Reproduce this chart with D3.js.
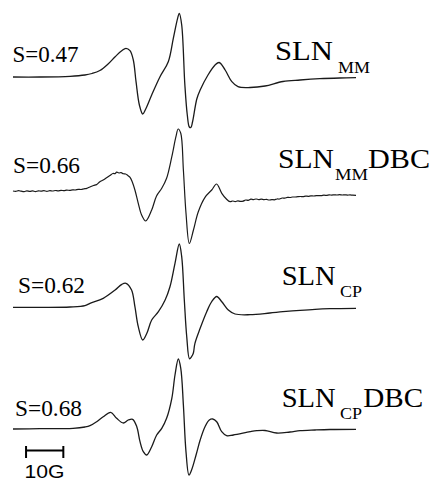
<!DOCTYPE html>
<html>
<head>
<meta charset="utf-8">
<script src="https://cdn.jsdelivr.net/npm/d3@7"></script>
<style>
  html, body { margin: 0; padding: 0; background: #fff; }
  svg { display: block; }
  .serif { font-family: "Liberation Serif", "Times New Roman", serif; }
  .sans { font-family: "Liberation Sans", Arial, sans-serif; }
</style>
</head>
<body>
<svg id="chart" width="431" height="481"></svg>
<script>
// EPR first-derivative spectra: [field offset (G), intensity (a.u.)]
const spectrumSLN_MM = [
  [0,0],[7.2,0],[15.3,0.07],[19.3,0.2],[21.2,0.35],[23.3,0.65],[25.5,1.3],[27.4,2.03],
  [29.16,2.63],[30.3,2.87],[31.38,2.63],[32.27,1.7],[33.0,-0.47],[33.9,-2.8],[34.8,-3.7],
  [35.6,-3.2],[37.2,-1.8],[39.4,0],[41.65,1.53],[43.0,3.87],[44.15,5.87],[44.6,6.37],
  [45.25,5.2],[46.1,-0.8],[46.75,-3.8],[47.3,-5.0],[47.7,-5.05],[48.15,-4.5],[49.3,-2.2],
  [50.2,-1.3],[52.3,0.2],[54.2,1.2],[55.3,1.45],[56.9,0.7],[58.7,-0.47],[60.35,-0.97],
  [63.6,-1.05],[67.6,-0.9],[72.4,-0.45],[77.0,-0.3],[82.3,-0.17],[87.7,-0.1],[92.0,-0.07]
];

const spectrumSLN_MM_DBC = [
  [0,0.0],[0.7,-0.04],[1.5,0.03],[2.2,-0.02],[3.0,-0.06],[3.7,0.02],[4.5,-0.04],[5.3,0.01],
  [6.0,-0.06],[6.8,0.02],[7.6,-0.02],[8.3,0.03],[9.1,-0.03],[9.9,0.04],[10.6,0.0],[11.4,0.05],
  [12.1,0.01],[12.9,0.07],[13.7,0.03],[14.4,0.09],[15.2,0.06],[16.0,0.11],[16.7,0.1],
  [17.5,0.16],[18.3,0.15],[19.0,0.22],[19.8,0.27],[20.6,0.4],[21.6,0.55],[22.4,0.64],
  [23.3,0.93],[24.2,1.1],[25.0,1.3],[26.0,1.55],[26.8,1.75],[27.4,1.74],[27.8,1.88],
  [28.4,1.8],[29.0,1.84],[29.6,1.72],[30.2,1.7],[30.8,1.55],[31.4,1.37],[32.0,0.9],
  [32.7,0.1],[33.6,-1.23],[34.5,-2.4],[35.6,-3.0],[37.2,-1.9],[38.5,-0.5],[39.9,0.27],
  [41.2,1.27],[42.6,3.43],[43.7,5.43],[44.3,6.2],[45.0,5.77],[45.7,2.1],[46.4,-2.2],
  [47.3,-5.25],[48.4,-3.9],[49.7,-2.07],[51.5,-0.63],[53.3,0.1],[54.6,0.7],[56.0,-0.23],
  [57.3,-0.83],[58.2,-1.07],[58.9,-1.0],[59.6,-1.06],[60.3,-0.98],[61.0,-1.04],[61.7,-1.02],
  [62.4,-0.9],[63.1,-0.93],[63.8,-0.82],[64.5,-0.86],[65.2,-0.8],[65.9,-0.86],[66.6,-0.82],
  [67.3,-0.86],[68.0,-0.84],[68.7,-0.9],[69.4,-0.86],[70.1,-0.88],[70.8,-0.8],[71.5,-0.8],
  [72.2,-0.7],[72.9,-0.72],[73.6,-0.64],[74.3,-0.65],[75.0,-0.6],[75.7,-0.6],[76.4,-0.57],
  [77.1,-0.55],[77.8,-0.56],[78.5,-0.51],[79.2,-0.53],[79.9,-0.48],[80.6,-0.5],[81.3,-0.47],
  [82.0,-0.46],[82.7,-0.47],[83.4,-0.42],[84.1,-0.44],[84.8,-0.39],[85.5,-0.41],[86.2,-0.38],
  [86.9,-0.4],[87.6,-0.37],[88.3,-0.4],[89.0,-0.38],[89.7,-0.41],[90.4,-0.39],[91.1,-0.42],
  [92.0,-0.43]
];

const spectrumSLN_CP = [
  [0,-0.03],[7.2,-0.03],[15.3,0],[19.3,0.13],[20.65,0.37],[24.2,0.87],[27.4,1.7],[29.2,2.27],
  [30.3,2.37],[31.8,1.7],[32.7,0.03],[33.6,-1.97],[34.8,-3.3],[35.9,-2.63],[37.2,-1.3],
  [39.0,-0.47],[40.8,0.7],[42.1,2.03],[43.45,4.37],[44.6,6.3],[45.25,5.03],[45.95,0.7],
  [46.6,-2.97],[47.35,-5.18],[47.9,-4.97],[48.36,-4.63],[48.8,-3.63],[50.2,-2.13],
  [51.96,-0.47],[53.3,0.53],[54.64,1.05],[56.0,0.53],[57.75,-0.3],[59.55,-0.7],[63.6,-0.77],
  [68.9,-0.6],[72.4,-0.47],[77.0,-0.33],[81.0,-0.23],[85.0,-0.17],[92.0,-0.13]
];

const spectrumSLN_CP_DBC = [
  [0,0],[7.2,0.03],[16.1,0.07],[19.3,0.2],[20.65,0.33],[22.45,0.73],[24.2,1.23],[26.2,1.67],
  [27.8,1.07],[29.6,0.6],[30.9,0.9],[32.1,0.97],[33.2,0.23],[34.07,-1.27],[34.95,-2.27],
  [35.86,-2.6],[37.2,-1.77],[38.54,-0.6],[39.9,0.07],[41.2,1.07],[42.6,3.07],[43.45,5.4],
  [44.34,7.0],[45.0,6.07],[45.7,2.4],[46.4,-2.27],[47.2,-4.6],[47.9,-4.1],[49.1,-2.6],
  [50.2,-1.1],[51.5,0.23],[52.65,0.9],[53.56,1.0],[54.64,0.73],[55.98,-0.27],[57.3,-0.67],
  [59.1,-0.6],[63.6,-0.27],[65.4,-0.17],[67.6,-0.15],[70.7,-0.4],[74.3,-0.3],[77.0,-0.17],
  [81.0,-0.1],[85.0,-0.05],[92.0,-0.03]
];

// Order parameters and sample names
const orderParams = [0.47, 0.66, 0.62, 0.68];
const sampleBase = ["SLN", "SLN", "SLN", "SLN"];
const sampleSub = ["MM", "MM", "CP", "CP"];
const sampleSuffix = ["", "DBC", "", "DBC"];
const scaleBarGauss = 10;

const spectra = [spectrumSLN_MM, spectrumSLN_MM_DBC, spectrumSLN_CP, spectrumSLN_CP_DBC];

// Layout
const W = 431, H = 481;
const baselines = [77, 191, 307, 429];
const labelLayout = [
  { sx: 12.5, sy: 61.7, sw: 66, nx: 275, ny: 59.5, nw: 58, bx: 338, by: 73.3, bw: 32, bs: 17, fx: 0, fw: 0 },
  { sx: 13,   sy: 173.3, sw: 67, nx: 278, ny: 168.3, nw: 56, bx: 335, by: 179.5, bw: 33, bs: 16, fx: 368, fw: 62 },
  { sx: 18,   sy: 293.3, sw: 67, nx: 281.7, ny: 285, nw: 54, bx: 340, by: 296.7, bw: 22, bs: 16, fx: 0, fw: 0 },
  { sx: 15,   sy: 416,   sw: 67, nx: 281.7, ny: 406.7, nw: 54, bx: 340, by: 419, bw: 22, bs: 16, fx: 363.3, fw: 60 }
];

const svg = d3.select("#chart").attr("viewBox", `0 0 ${W} ${H}`);
svg.append("rect").attr("width", W).attr("height", H).attr("fill", "#fff");

const x = d3.scaleLinear().domain([0, 92]).range([13, 356]);

spectra.forEach((data, i) => {
  const base = baselines[i];
  const y = d3.scaleLinear().domain([-6, 8]).range([base + 60, base - 80]);
  const line = d3.line()
    .x(d => x(d[0]))
    .y(d => y(d[1]))
    .curve(d3.curveCatmullRom.alpha(0.5));

  svg.append("path")
    .datum(data)
    .attr("d", line)
    .attr("fill", "none")
    .attr("stroke", "#1a1a1a")
    .attr("stroke-width", i === 1 ? 1.2 : 1.3)
    .attr("stroke-linejoin", "round");

  const L = labelLayout[i];

  svg.append("text")
    .attr("class", "serif")
    .attr("x", L.sx).attr("y", L.sy)
    .attr("font-size", 24)
    .attr("textLength", L.sw).attr("lengthAdjust", "spacingAndGlyphs")
    .attr("fill", "#000")
    .text(`S=${orderParams[i].toFixed(2)}`);

  svg.append("text")
    .attr("class", "serif")
    .attr("x", L.nx).attr("y", L.ny)
    .attr("font-size", 27)
    .attr("textLength", L.nw).attr("lengthAdjust", "spacingAndGlyphs")
    .attr("fill", "#000")
    .text(sampleBase[i]);

  svg.append("text")
    .attr("class", "serif")
    .attr("x", L.bx).attr("y", L.by)
    .attr("font-size", L.bs)
    .attr("textLength", L.bw).attr("lengthAdjust", "spacingAndGlyphs")
    .attr("fill", "#000")
    .text(sampleSub[i]);

  if (sampleSuffix[i]) {
    svg.append("text")
      .attr("class", "serif")
      .attr("x", L.fx).attr("y", L.ny)
      .attr("font-size", 27)
      .attr("textLength", L.fw).attr("lengthAdjust", "spacingAndGlyphs")
      .attr("fill", "#000")
      .text(sampleSuffix[i]);
  }
});

// Field scale bar
const barStart = 3.5;
const bar = svg.append("g").attr("stroke", "#000").attr("stroke-width", 2);
bar.append("line")
  .attr("x1", x(barStart)).attr("x2", x(barStart + scaleBarGauss))
  .attr("y1", 450.5).attr("y2", 450.5);
[barStart, barStart + scaleBarGauss].forEach(g => {
  bar.append("line")
    .attr("x1", x(g)).attr("x2", x(g))
    .attr("y1", 446).attr("y2", 458);
});
svg.append("text")
  .attr("class", "sans")
  .attr("x", 24.5).attr("y", 477.5)
  .attr("font-size", 19)
  .attr("textLength", 40).attr("lengthAdjust", "spacingAndGlyphs")
  .attr("fill", "#000")
  .text(`${scaleBarGauss}G`);
</script>
</body>
</html>
